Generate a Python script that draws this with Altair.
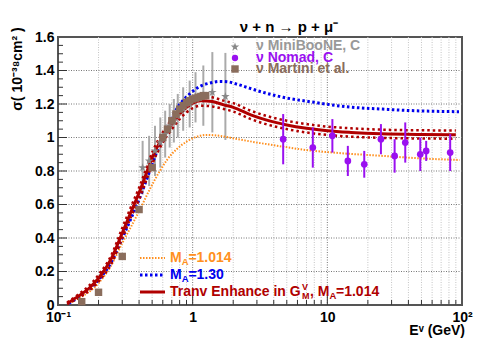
import altair as alt
import pandas as pd

# ---------------- data ----------------
x_major = [0.1, 1, 10, 100]
x_minor = [0.2, 0.3, 0.4, 0.5, 0.6, 0.7, 0.8, 0.9,
           2, 3, 4, 5, 6, 7, 8, 9,
           20, 30, 40, 50, 60, 70, 80, 90]
y_major = [0, 0.2, 0.4, 0.6, 0.8, 1.0, 1.2, 1.4, 1.6]
y_minor = [0.05, 0.1, 0.15, 0.25, 0.3, 0.35, 0.45, 0.5, 0.55, 0.65, 0.7, 0.75,
           0.85, 0.9, 0.95, 1.05, 1.1, 1.15, 1.25, 1.3, 1.35, 1.45, 1.5, 1.55]

# Transverse enhancement curve (solid) with its band (dotted)
E_red = [0.117, 0.14, 0.17, 0.2, 0.25, 0.3, 0.35, 0.4, 0.45, 0.5, 0.6, 0.7, 0.8, 0.9,
         1.0, 1.15, 1.4, 1.7, 2.0, 2.7, 3.5, 5, 7, 10, 15, 25, 50, 90]
red = [0.01, 0.05, 0.10, 0.16, 0.28, 0.43, 0.56, 0.67, 0.78, 0.88, 1.00, 1.08, 1.14, 1.18,
       1.205, 1.22, 1.215, 1.195, 1.18, 1.135, 1.105, 1.075, 1.055, 1.04, 1.03, 1.022, 1.018, 1.017]
red_hi = [0.015, 0.06, 0.115, 0.18, 0.30, 0.46, 0.59, 0.70, 0.81, 0.91, 1.03, 1.11, 1.17, 1.21,
          1.235, 1.248, 1.24, 1.22, 1.205, 1.16, 1.13, 1.10, 1.08, 1.065, 1.055, 1.047, 1.043, 1.042]
red_lo = [0.005, 0.04, 0.085, 0.14, 0.25, 0.40, 0.53, 0.63, 0.74, 0.84, 0.97, 1.05, 1.11, 1.15,
          1.175, 1.19, 1.185, 1.17, 1.155, 1.11, 1.08, 1.05, 1.03, 1.015, 1.005, 0.998, 0.994, 0.993]

# M_A = 1.30 (blue dotted)
E_blue = [0.12, 0.15, 0.2, 0.25, 0.3, 0.35, 0.4, 0.45, 0.5, 0.57, 0.65, 0.76, 0.95, 1.13,
          1.34, 1.6, 1.8, 2.2, 2.67, 3.5, 4.7, 8, 14, 25, 44, 95]
blue = [0.01, 0.06, 0.15, 0.26, 0.40, 0.52, 0.63, 0.74, 0.84, 0.96, 1.06, 1.17, 1.26, 1.305,
        1.325, 1.335, 1.333, 1.315, 1.293, 1.265, 1.24, 1.21, 1.183, 1.17, 1.16, 1.154]

# M_A = 1.014 (orange dotted)
E_orange = [0.12, 0.15, 0.2, 0.25, 0.3, 0.35, 0.4, 0.48, 0.57, 0.65, 0.76, 0.9, 1.0, 1.27,
            1.6, 2.0, 3.0, 4.7, 7, 11, 26, 50, 96]
orange = [0.01, 0.05, 0.13, 0.24, 0.37, 0.47, 0.56, 0.69, 0.80, 0.87, 0.93, 0.975, 0.995, 1.015,
          1.01, 0.995, 0.97, 0.945, 0.925, 0.91, 0.89, 0.875, 0.866]

# MiniBooNE (stars)
E_mb = [0.425, 0.475, 0.525, 0.575, 0.625, 0.675, 0.725, 0.775, 0.85, 0.95, 1.05, 1.2, 1.4, 1.75]
y_mb = [0.82, 0.86, 0.92, 0.97, 1.02, 1.07, 1.10, 1.13, 1.17, 1.20, 1.24, 1.25, 1.27, 1.245]
err_mb = [0.16, 0.15, 0.15, 0.15, 0.14, 0.13, 0.13, 0.13, 0.13, 0.14, 0.15, 0.18, 0.24, 0.26]

# Nomad (dots)
E_nom = [4.7, 7.8, 10.9, 14.2, 18.8, 25.0, 31.6, 37.9, 49.0, 54.2, 81.7]
y_nom = [0.99, 0.94, 1.01, 0.86, 0.84, 0.99, 0.89, 0.97, 0.90, 0.92, 0.91]
err_nom = [0.15, 0.12, 0.10, 0.09, 0.08, 0.09, 0.10, 0.12, 0.10, 0.06, 0.11]

# Martini et al. (squares)
E_mart = [0.15, 0.2, 0.3, 0.4, 0.5, 0.6, 0.65, 0.7, 0.75, 0.8, 0.85, 0.9, 0.95, 1.0,
          1.05, 1.1, 1.15, 1.2, 1.25]
y_mart = [0.02, 0.076, 0.29, 0.57, 0.82, 1.0, 1.05, 1.10, 1.14, 1.17, 1.19, 1.21, 1.22, 1.23,
          1.235, 1.24, 1.245, 1.25, 1.25]

# ---------------- styling ----------------
FONT = "Liberation Sans"
C_RED = "#b00000"
C_BLUE = "#0000ee"
C_ORANGE = "#ff9020"
C_GRAY = "#999999"
C_PURPLE = "#9a10f0"
C_BROWN = "#8a6d5c"
STAR = "M0,-1L0.2245,-0.309L0.951,-0.309L0.363,0.118L0.588,0.809L0,0.382L-0.588,0.809L-0.363,0.118L-0.951,-0.309L-0.2245,-0.309Z"

W, H = 404, 268
xs = alt.Scale(type="log", domain=[0.1, 100], nice=False)
ys = alt.Scale(domain=[0, 1.6], nice=False)

XAXIS = alt.Axis(
    values=x_major, grid=False, ticks=False, domain=False, title=None,
    labelExpr="datum.value == 0.1 ? '10⁻¹' : datum.value == 1 ? '1' : datum.value == 10 ? '10' : '10²'",
    labelFont=FONT, labelFontWeight="bold", labelFontSize=14, labelColor="black",
    labelPadding=5, labelOverlap=False, labelFlush=False)
YAXIS = alt.Axis(
    values=y_major, grid=False, ticks=False, domain=False, title=None,
    labelExpr="datum.value == 0 ? '0' : datum.value == 1 ? '1' : format(datum.value, '.1f')",
    labelFont=FONT, labelFontWeight="bold", labelFontSize=14, labelColor="black",
    labelPadding=4, labelOverlap=False, labelFlush=False)


def X(f="x"):
    return alt.X(f"{f}:Q", scale=xs, axis=XAXIS)


def Y(f="y"):
    return alt.Y(f"{f}:Q", scale=ys, axis=YAXIS)


one = pd.DataFrame({"a": [0]})


def txt(s, x, y, color="black", size=14, align="left", angle=0, baseline="middle"):
    return alt.Chart(one).mark_text(
        text=s, font=FONT, fontWeight="bold", fontSize=size, color=color,
        align=align, baseline=baseline, angle=angle
    ).encode(x=alt.value(x), y=alt.value(y))


layers = []

# axes carrier (invisible)
axis_df = pd.DataFrame({"x": [0.1, 100], "y": [0, 1.6]})
layers.append(alt.Chart(axis_df).mark_point(opacity=0).encode(x=X(), y=Y()))

# grid
layers.append(alt.Chart(pd.DataFrame({"x": x_minor})).mark_rule(
    color="#c4c4c4", strokeDash=[1, 1.5], strokeWidth=1).encode(x=X()))
layers.append(alt.Chart(pd.DataFrame({"x": [1, 10]})).mark_rule(
    color="#777777", strokeDash=[1, 1.5], strokeWidth=1).encode(x=X()))
layers.append(alt.Chart(pd.DataFrame({"y": y_major[1:-1]})).mark_rule(
    color="#777777", strokeDash=[1, 1.5], strokeWidth=1).encode(y=Y()))

# ticks (inward)
layers.append(alt.Chart(pd.DataFrame({"x": x_minor})).mark_rule(color="#333", strokeWidth=1).encode(
    x=X(), y=alt.value(H), y2=alt.value(H - 5)))
layers.append(alt.Chart(pd.DataFrame({"x": [1, 10]})).mark_rule(color="#333", strokeWidth=1).encode(
    x=X(), y=alt.value(H), y2=alt.value(H - 9)))
layers.append(alt.Chart(pd.DataFrame({"y": y_minor})).mark_rule(color="#333", strokeWidth=1).encode(
    y=Y(), x=alt.value(0), x2=alt.value(5)))
layers.append(alt.Chart(pd.DataFrame({"y": y_major[1:-1]})).mark_rule(color="#333", strokeWidth=1).encode(
    y=Y(), x=alt.value(0), x2=alt.value(9)))

# MiniBooNE error bars
mb = pd.DataFrame({"x": E_mb, "y": y_mb, "e": err_mb})
mb["lo"] = mb["y"] - mb["e"]
mb["hi"] = mb["y"] + mb["e"]
layers.append(alt.Chart(mb).mark_rule(color="#aaaaaa", strokeWidth=2).encode(
    x=X(), y=Y("lo"), y2="hi:Q"))


# curves
def curve(E, V, color, width, dash=None):
    kw = dict(color=color, strokeWidth=width, interpolate="monotone")
    if dash:
        kw["strokeDash"] = dash
    return alt.Chart(pd.DataFrame({"x": E, "y": V})).mark_line(**kw).encode(x=X(), y=Y())


layers.append(curve(E_orange, orange, C_ORANGE, 2, [1.5, 1.5]))
layers.append(curve(E_blue, blue, C_BLUE, 3, [2.5, 2.5]))
layers.append(curve(E_red, red_hi, C_RED, 2.5, [2.5, 3]))
layers.append(curve(E_red, red_lo, C_RED, 2.5, [2.5, 3]))
layers.append(curve(E_red, red, C_RED, 3))

# MiniBooNE stars
layers.append(alt.Chart(mb).mark_point(shape=STAR, filled=True, size=80, color="#888888", opacity=1).encode(
    x=X(), y=Y()))

# Martini squares
layers.append(alt.Chart(pd.DataFrame({"x": E_mart, "y": y_mart})).mark_point(
    shape="square", filled=True, size=55, color=C_BROWN, opacity=1).encode(x=X(), y=Y()))

# Nomad
nom = pd.DataFrame({"x": E_nom, "y": y_nom, "e": err_nom})
nom["lo"] = nom["y"] - nom["e"]
nom["hi"] = nom["y"] + nom["e"]
layers.append(alt.Chart(nom).mark_rule(color=C_PURPLE, strokeWidth=2).encode(
    x=X(), y=Y("lo"), y2="hi:Q"))
layers.append(alt.Chart(nom).mark_point(shape="circle", filled=True, size=45, color=C_PURPLE, opacity=1).encode(
    x=X(), y=Y()))

# top-right legend
layers.append(alt.Chart(one).mark_point(shape=STAR, filled=True, size=80, color="#888888", opacity=1).encode(
    x=alt.value(177), y=alt.value(10)))
layers.append(alt.Chart(one).mark_point(shape="circle", filled=True, size=40, color=C_PURPLE, opacity=1).encode(
    x=alt.value(177), y=alt.value(21)))
layers.append(alt.Chart(one).mark_point(shape="square", filled=True, size=55, color=C_BROWN, opacity=1).encode(
    x=alt.value(177), y=alt.value(32)))
layers.append(txt("ν MiniBooNE, C", 198, 9, C_GRAY))
layers.append(txt("ν Nomad, C", 198, 20.5, C_PURPLE))
layers.append(txt("ν Martini et al.", 198, 32, C_BROWN))


# bottom-left legend
def leg_line(y, color, width, dash=None):
    kw = dict(color=color, strokeWidth=width)
    if dash:
        kw["strokeDash"] = dash
    return alt.Chart(one).mark_rule(**kw).encode(x=alt.value(82), x2=alt.value(107), y=alt.value(y))


layers.append(leg_line(221, C_ORANGE, 2, [1.5, 1.5]))
layers.append(leg_line(238, C_BLUE, 3, [2.5, 2.5]))
layers.append(leg_line(255, C_RED, 3))

for yy, col, val in [(221, C_ORANGE, "=1.014"), (238, C_BLUE, "=1.30")]:
    layers.append(txt("M", 112, yy, col))
    layers.append(txt("A", 123.7, yy + 4, col, size=9.5))
    layers.append(txt(val, 130.4, yy, col))

layers.append(txt("Tranv Enhance in G", 112, 255, C_RED))
layers.append(txt("V", 244, 250, C_RED, size=9))
layers.append(txt("M", 244, 259, C_RED, size=9))
layers.append(txt(", M", 252, 255, C_RED))
layers.append(txt("A", 271.5, 259, C_RED, size=9.5))
layers.append(txt("=1.014", 278, 255, C_RED))

# titles
layers.append(txt("ν + n → p + μ⁻", 231, -10, "black", size=15, align="center"))
layers.append(txt("σ( 10⁻³⁸cm² )", -40, 32, "black", size=14, align="center", angle=270))
layers.append(txt("Eᵛ (GeV)", 407, 294, "black", size=14, align="right"))

chart = alt.layer(*layers).properties(
    width=W, height=H,
    autosize=alt.AutoSizeParams(type="none"),
    padding={"left": 50, "top": 29, "right": 15, "bottom": 47},
).configure_view(stroke="#555555", strokeWidth=2)

chart.save("out.html", embed_options={"renderer": "svg", "actions": False})
